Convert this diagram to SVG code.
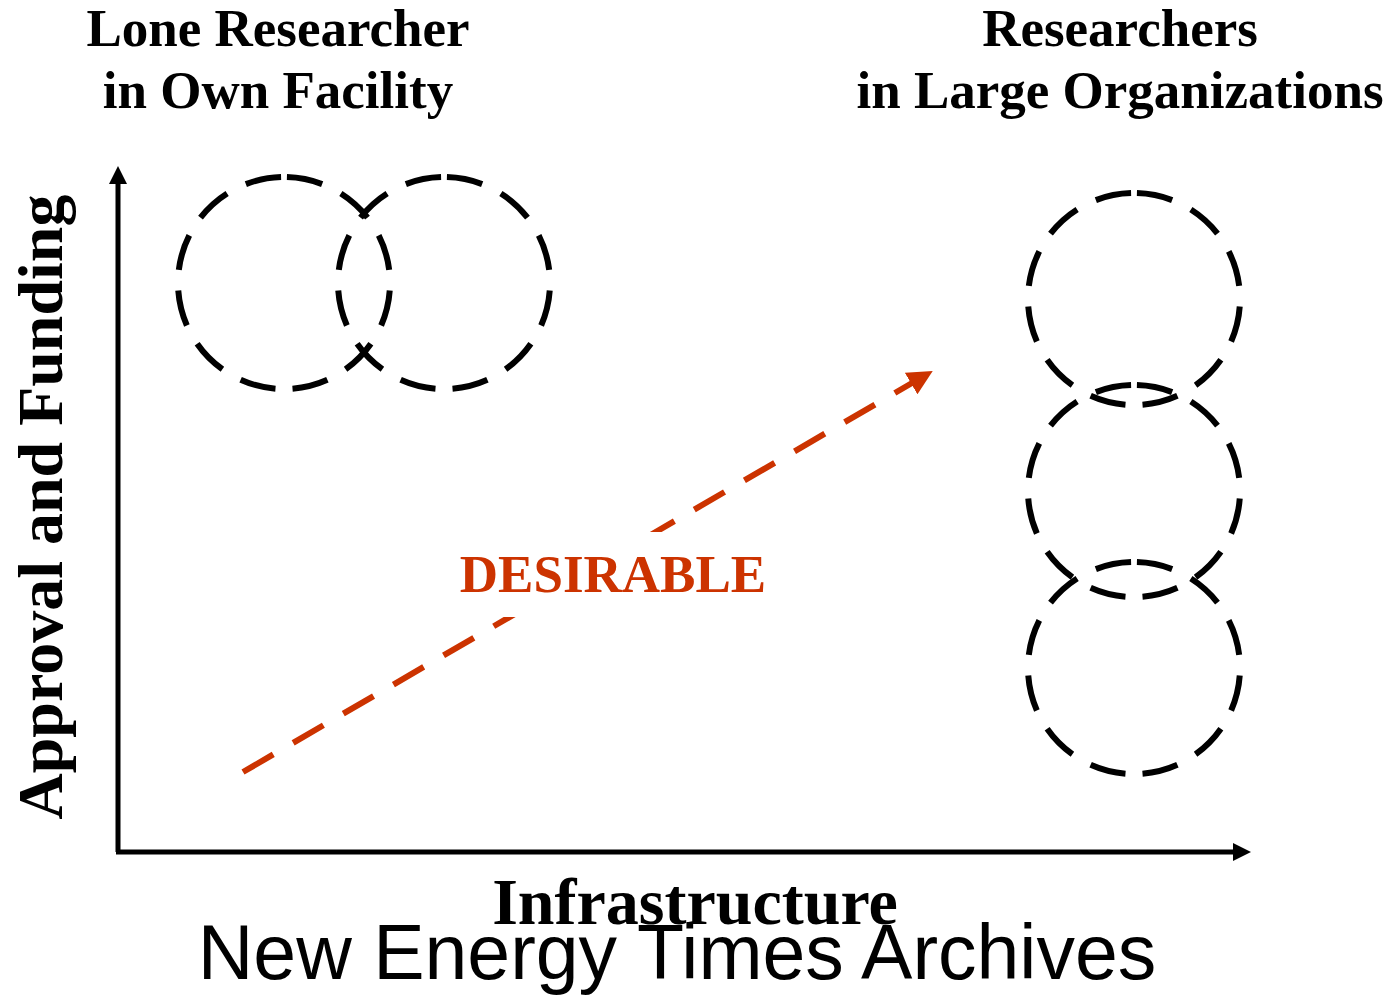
<svg xmlns="http://www.w3.org/2000/svg" width="1397" height="996" viewBox="0 0 1397 996">
  <style>
    .title { font-family: "Liberation Serif", "Times New Roman", serif; font-weight: bold; font-size: 53px; fill: #000; text-anchor: middle; }
    .axislabel { font-family: "Liberation Serif", "Times New Roman", serif; font-weight: bold; fill: #000; text-anchor: middle; }
    .desire { font-family: "Liberation Serif", "Times New Roman", serif; font-weight: bold; font-size: 53px; fill: #CC3300; text-anchor: middle; }
    .footer { font-family: "Liberation Sans", Arial, sans-serif; font-size: 77px; fill: #000; text-anchor: middle; }
    .group { fill: none; stroke: #000; stroke-width: 6; stroke-dasharray: 36 21; stroke-dashoffset: 54; }
    .axis { fill: none; stroke: #000; stroke-width: 5; }
    .trend { fill: none; stroke: #CC3300; stroke-width: 6; stroke-dasharray: 35 23; }
  </style>
  <defs>
    <marker id="axisHead" markerUnits="userSpaceOnUse" markerWidth="18" markerHeight="18" refX="1" refY="9" orient="auto" viewBox="0 0 18 18">
      <path d="M0,0 L18,9 L0,18 z" fill="#000"/>
    </marker>
    <marker id="trendHead" markerUnits="userSpaceOnUse" markerWidth="25" markerHeight="25" refX="1" refY="12.5" orient="auto" viewBox="0 0 25 25">
      <path d="M0,0 L25,12.5 L0,25 z" fill="#CC3300"/>
    </marker>
  </defs>
  <rect width="1397" height="996" fill="#fff"/>

  <g id="connectors">
    <line id="y-axis" class="axis" x1="118" y1="852" x2="118" y2="183" marker-end="url(#axisHead)"/>
    <line id="x-axis" class="axis" x1="116" y1="852" x2="1234" y2="852" marker-end="url(#axisHead)"/>
    <line id="desirable-arrow" class="trend" x1="243" y1="772" x2="912" y2="383" marker-end="url(#trendHead)"/>
  </g>

  <g id="lone-circle-1">
    <path class="group" d="M284,177 A106,106 0 0 1 284,389 M284,177 A106,106 0 0 0 284,389"/>
  </g>
  <g id="lone-circle-2">
    <path class="group" d="M444,177 A106,106 0 0 1 444,389 M444,177 A106,106 0 0 0 444,389"/>
  </g>
  <g id="org-circle-1">
    <path class="group" d="M1134,193 A106,106 0 0 1 1134,405 M1134,193 A106,106 0 0 0 1134,405"/>
  </g>
  <g id="org-circle-2">
    <path class="group" d="M1134,385 A106,106 0 0 1 1134,597 M1134,385 A106,106 0 0 0 1134,597"/>
  </g>
  <g id="org-circle-3">
    <path class="group" d="M1134,562 A106,106 0 0 1 1134,774 M1134,562 A106,106 0 0 0 1134,774"/>
  </g>

  <g id="title-left">
    <text class="title" x="278" y="46">Lone Researcher</text>
    <text class="title" x="278" y="108">in Own Facility</text>
  </g>
  <g id="title-right">
    <text class="title" x="1120" y="46">Researchers</text>
    <text class="title" x="1120" y="108">in Large Organizations</text>
  </g>

  <g id="desirable-label">
    <rect x="452" y="532" width="322" height="85" fill="#fff"/>
    <text class="desire" x="613" y="592">DESIRABLE</text>
  </g>

  <g id="y-axis-label">
    <text class="axislabel" font-size="64" transform="translate(62,507) rotate(-90)">Approval and Funding</text>
  </g>
  <g id="x-axis-label">
    <text class="axislabel" font-size="66" x="695" y="924">Infrastructure</text>
  </g>
  <g id="footer">
    <text class="footer" x="677" y="979">New Energy Times Archives</text>
  </g>
</svg>
